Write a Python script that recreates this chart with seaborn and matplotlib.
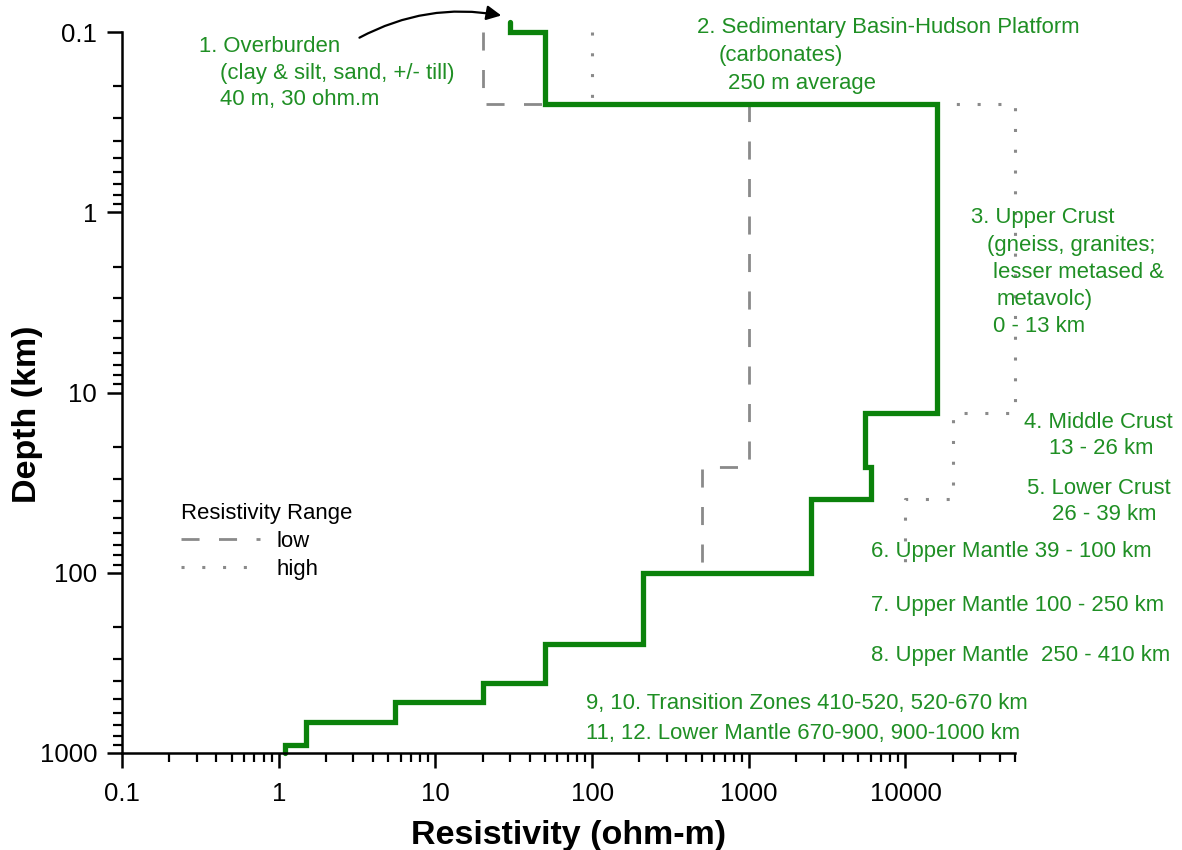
import matplotlib
matplotlib.use("Agg")
import matplotlib.pyplot as plt
import matplotlib.ticker as mticker
import numpy as np
import pandas as pd
import seaborn as sns

# Layered resistivity model: depth (km) of each layer's top/bottom and resistivity (ohm-m)
layer_top = [0.088, 0.1, 0.25, 13, 26, 39, 100, 250, 410, 520, 670, 900]
layer_bottom = [0.1, 0.25, 13, 26, 39, 100, 250, 410, 520, 670, 900, 1000]
res_model = [30, 50, 16000, 5500, 6000, 2500, 210, 50, 20, 5.5, 1.5, 1.1]

# Resistivity range envelope
low_top = [0.1, 0.25, 26]
low_bottom = [0.25, 26, 100]
res_low = [20, 1000, 500]

high_top = [0.1, 0.25, 13, 39]
high_bottom = [0.25, 13, 39, 100]
res_high = [100, 50000, 20000, 10000]

x_ticks = [0.1, 1, 10, 100, 1000, 10000]
y_ticks = [0.1, 1, 10, 100, 1000]


def step_frame(res, tops, bottoms):
    xs, ys = [], []
    for r, t, b in zip(res, tops, bottoms):
        xs += [r, r]
        ys += [t, b]
    return pd.DataFrame({"res": xs, "depth": ys})


sns.set_style("ticks")
plt.rcParams["font.family"] = ["Liberation Sans", "DejaVu Sans"]
plt.rcParams["text.color"] = "black"
plt.rcParams["axes.labelcolor"] = "black"

W, H = 1182, 850
fig = plt.figure(figsize=(W / 100, H / 100), dpi=100)
ax = fig.add_axes([122 / W, 1 - 753 / H, (1015 - 122) / W, (753 - 32) / H])
ax.set_xscale("log")
ax.set_yscale("log")

GREEN_LINE = "#0b820b"
GREEN_TEXT = "#1f8f24"
GRAY = "#8a8a8a"

sns.lineplot(data=step_frame(res_low, low_top, low_bottom), x="res", y="depth",
             sort=False, estimator=None, ax=ax, color=GRAY, lw=2.0,
             linestyle=(0, (6.5, 7.0)), legend=False, label="low")
sns.lineplot(data=step_frame(res_high, high_top, high_bottom), x="res", y="depth",
             sort=False, estimator=None, ax=ax, color=GRAY, lw=2.2,
             linestyle=(0, (1.0, 5.8)), legend=False, label="high", clip_on=False)
sns.lineplot(data=step_frame(res_model, layer_top, layer_bottom), x="res", y="depth",
             sort=False, estimator=None, ax=ax, color=GREEN_LINE, lw=3.8,
             legend=False, clip_on=False, solid_joinstyle="miter")

ax.set_xlim(0.1, 50000)
ax.set_ylim(1000, 0.1)

for side in ["top", "right"]:
    ax.spines[side].set_visible(False)
for side in ["left", "bottom"]:
    ax.spines[side].set_linewidth(1.8)
    ax.spines[side].set_color("black")

ax.xaxis.set_major_locator(mticker.FixedLocator(x_ticks))
ax.xaxis.set_major_formatter(mticker.FixedFormatter([f"{v:g}" for v in x_ticks]))
ax.xaxis.set_minor_locator(mticker.LogLocator(base=10, subs=np.arange(2, 10)))
ax.xaxis.set_minor_formatter(mticker.NullFormatter())
ax.yaxis.set_major_locator(mticker.FixedLocator(y_ticks))
ax.yaxis.set_major_formatter(mticker.FixedFormatter([f"{v:g}" for v in y_ticks]))
ax.yaxis.set_minor_locator(mticker.LogLocator(base=10, subs=np.arange(2, 10)))
ax.yaxis.set_minor_formatter(mticker.NullFormatter())

ax.tick_params(which="major", direction="out", length=11, width=1.8,
               labelsize=18.5, colors="black", pad=7)
ax.tick_params(axis="x", which="major", pad=10)
ax.tick_params(which="minor", direction="out", length=6.5, width=1.6, colors="black")

ax.set_xlabel("Resistivity (ohm-m)", fontsize=24.5, fontweight="bold",
              labelpad=10, color="black")
ax.set_ylabel("Depth (km)", fontsize=24.5, fontweight="bold", color="black")
ax.yaxis.set_label_coords(-0.088, 0.47)

# Legend for the range envelope
handles = [ax.lines[0], ax.lines[1]]
leg = ax.legend(handles, ["low", "high"], title="Resistivity Range",
                loc="upper left", bbox_to_anchor=(163 / W, 1 - 485 / H),
                bbox_transform=fig.transFigure, frameon=False, fontsize=15.9,
                title_fontsize=15.9, handlelength=3.6, handletextpad=0.75,
                labelspacing=0.32, alignment="left", borderpad=0.3,
                labelcolor="black")
leg.get_title().set_color("black")


def label(x, y, s, **kw):
    fig.text(x / W, 1 - y / H, s, ha="left", va="center", fontsize=15.9,
             color=GREEN_TEXT, **kw)


label(199, 46, "1. Overburden")
label(220, 73, "(clay & silt, sand, +/- till)")
label(220, 99, "40 m, 30 ohm.m")

label(697, 27, "2. Sedimentary Basin-Hudson Platform")
label(719, 56, "(carbonates)")
label(728, 83, "250 m average")

label(971, 218, "3. Upper Crust")
label(987, 246, "(gneiss, granites;")
label(993, 273, "lesser metased &")
label(997, 299, "metavolc)")
label(993, 326, "0 - 13 km")

label(1024, 423, "4. Middle Crust")
label(1049, 448, "13 - 26 km")
label(1027, 488, "5. Lower Crust")
label(1052, 515, "26 - 39 km")

label(871, 552, "6. Upper Mantle 39 - 100 km")
label(871, 606, "7. Upper Mantle 100 - 250 km")
label(871, 656, "8. Upper Mantle  250 - 410 km")
label(586, 703, "9, 10. Transition Zones 410-520, 520-670 km")
label(586, 733, "11, 12. Lower Mantle 670-900, 900-1000 km")

# Pointer from the overburden note to the top layer
ax.annotate("", xy=(504, H - 16), xycoords="figure pixels",
            xytext=(357, H - 39), textcoords="figure pixels",
            arrowprops=dict(arrowstyle="-|>", color="black", lw=1.6,
                            mutation_scale=22,
                            connectionstyle="arc3,rad=-0.18"),
            annotation_clip=False)

fig.savefig("out.png", dpi=100, facecolor="white")
